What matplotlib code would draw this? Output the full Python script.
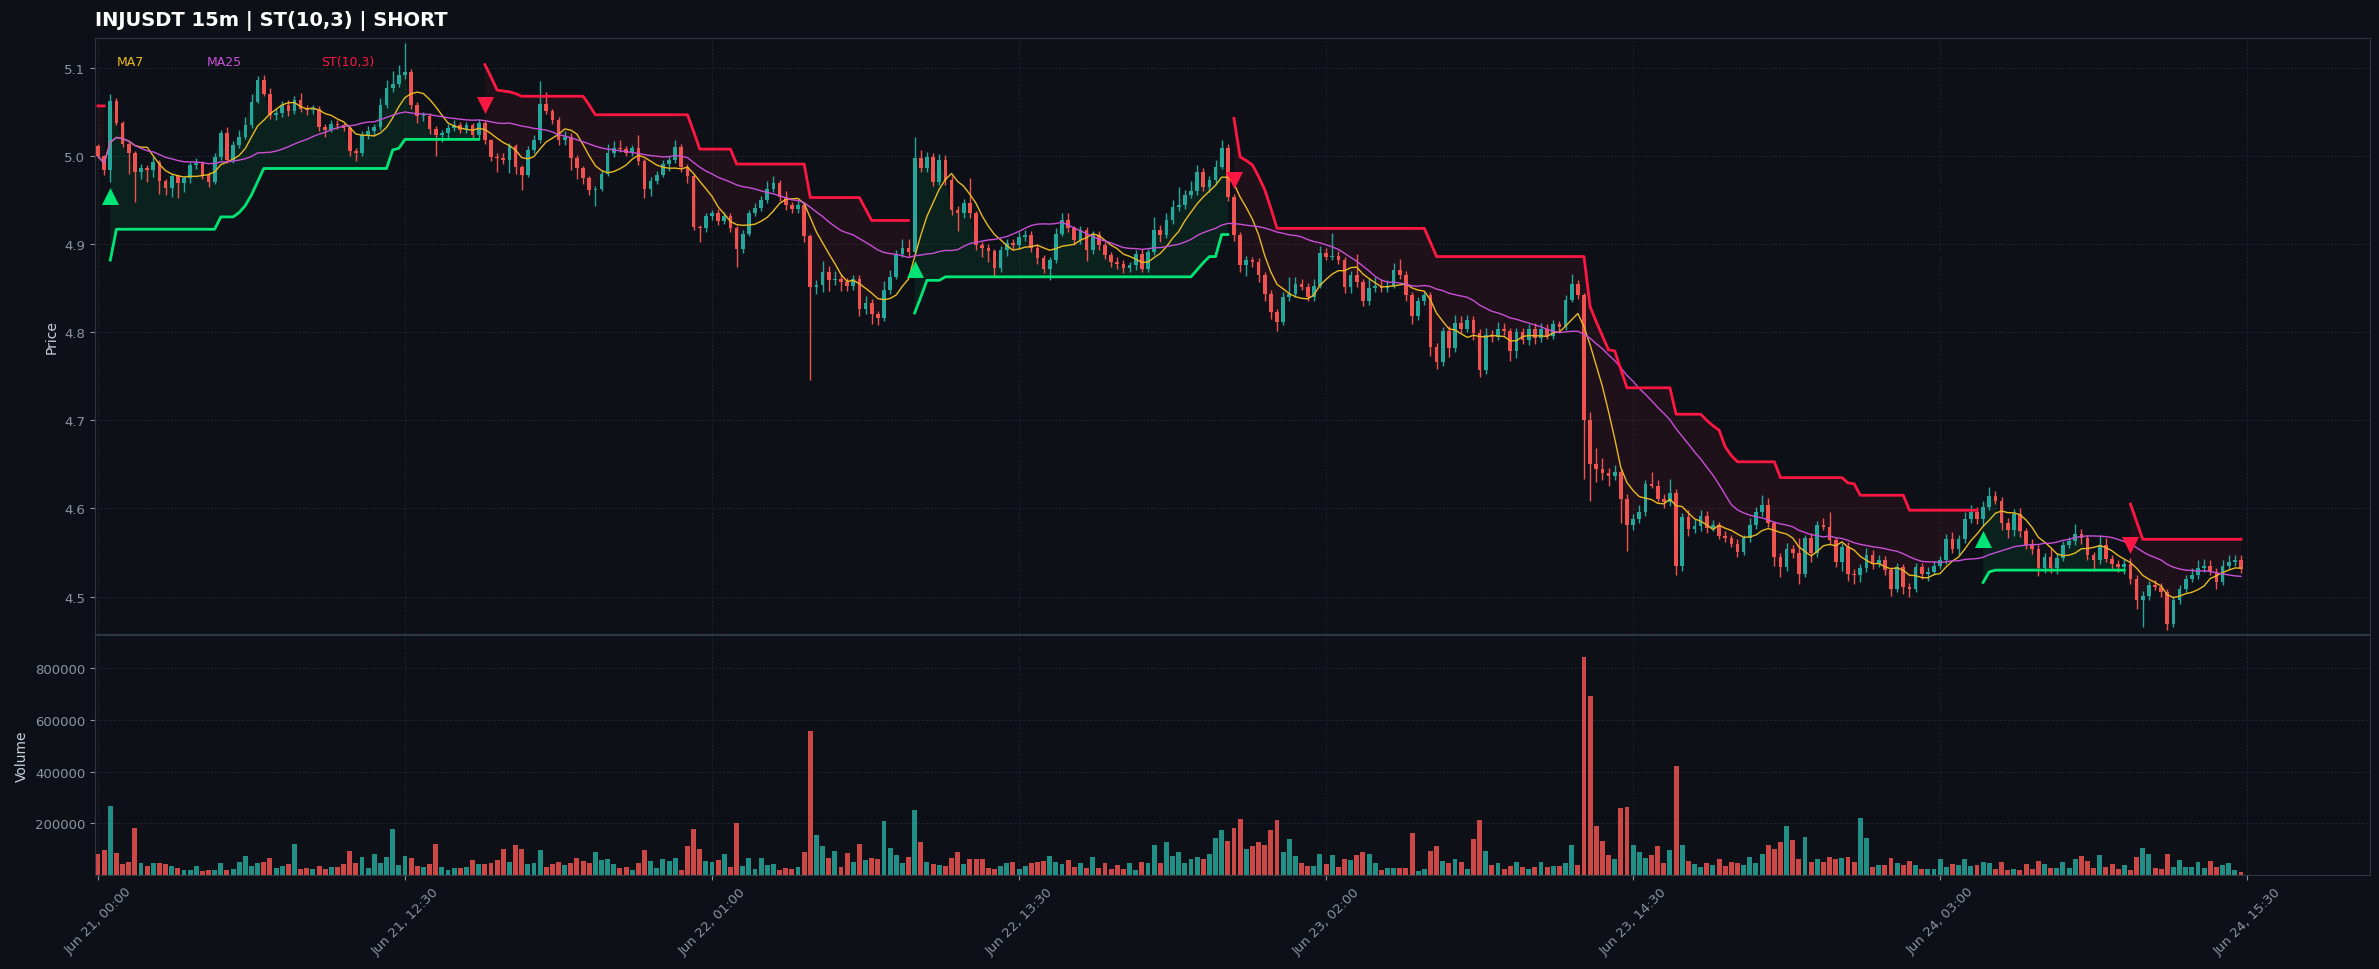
import numpy as np
import pandas as pd
import matplotlib
matplotlib.use('Agg')
import matplotlib.pyplot as plt

# ---- data (15m candles, Jun 21 00:00 onwards) ----
first_open = 5.012
closes = [
    5.000, 4.984, 5.063, 5.038, 5.014, 5.004, 4.982, 4.986, 4.984, 4.993,
    4.972, 4.964, 4.977, 4.969, 4.975, 4.990, 4.992, 4.979, 4.971, 4.999,
    5.026, 4.996, 5.013, 5.022, 5.035, 5.062, 5.086, 5.071, 5.047, 5.049,
    5.058, 5.051, 5.064, 5.054, 5.052, 5.054, 5.033, 5.030, 5.037, 5.035,
    5.032, 5.006, 5.003, 5.024, 5.028, 5.033, 5.058, 5.077, 5.082, 5.092,
    5.096, 5.058, 5.046, 5.046, 5.031, 5.024, 5.026, 5.032, 5.035, 5.030,
    5.035, 5.024, 5.038, 5.018, 4.999, 4.998, 4.996, 5.011, 4.988, 4.979,
    5.007, 5.018, 5.059, 5.051, 5.041, 5.018, 5.022, 4.998, 4.986, 4.975,
    4.962, 4.963, 4.980, 5.003, 5.009, 5.008, 5.004, 5.009, 4.994, 4.963,
    4.972, 4.979, 4.991, 4.996, 5.010, 4.988, 4.977, 4.920, 4.918, 4.932,
    4.935, 4.926, 4.932, 4.918, 4.895, 4.912, 4.935, 4.941, 4.950, 4.963,
    4.969, 4.954, 4.944, 4.940, 4.944, 4.909, 4.852, 4.854, 4.869, 4.859,
    4.860, 4.857, 4.853, 4.861, 4.827, 4.833, 4.821, 4.816, 4.848, 4.863,
    4.889, 4.896, 4.891, 4.998, 4.986, 4.999, 4.971, 4.996, 4.973, 4.939,
    4.935, 4.947, 4.935, 4.899, 4.896, 4.892, 4.873, 4.893, 4.901, 4.899,
    4.908, 4.911, 4.896, 4.884, 4.872, 4.882, 4.912, 4.927, 4.918, 4.905,
    4.916, 4.893, 4.911, 4.899, 4.888, 4.880, 4.877, 4.873, 4.876, 4.889,
    4.872, 4.891, 4.916, 4.910, 4.927, 4.942, 4.944, 4.956, 4.960, 4.982,
    4.965, 4.973, 4.988, 5.009, 4.954, 4.910, 4.876, 4.882, 4.880, 4.865,
    4.844, 4.823, 4.812, 4.840, 4.844, 4.855, 4.852, 4.840, 4.853, 4.890,
    4.886, 4.887, 4.882, 4.851, 4.865, 4.857, 4.835, 4.850, 4.853, 4.850,
    4.853, 4.871, 4.865, 4.842, 4.819, 4.835, 4.842, 4.783, 4.766, 4.801,
    4.782, 4.810, 4.804, 4.814, 4.799, 4.757, 4.797, 4.795, 4.804, 4.801,
    4.779, 4.800, 4.791, 4.804, 4.793, 4.804, 4.796, 4.809, 4.806, 4.837,
    4.855, 4.842, 4.700, 4.651, 4.645, 4.640, 4.637, 4.641, 4.611, 4.581,
    4.588, 4.596, 4.628, 4.626, 4.611, 4.607, 4.618, 4.535, 4.590, 4.577,
    4.580, 4.592, 4.578, 4.581, 4.569, 4.566, 4.560, 4.551, 4.566, 4.581,
    4.596, 4.604, 4.583, 4.545, 4.534, 4.554, 4.549, 4.526, 4.566, 4.549,
    4.581, 4.579, 4.564, 4.539, 4.556, 4.526, 4.524, 4.532, 4.547, 4.537,
    4.541, 4.530, 4.509, 4.533, 4.511, 4.509, 4.533, 4.526, 4.528, 4.535,
    4.541, 4.565, 4.554, 4.565, 4.588, 4.596, 4.588, 4.602, 4.614, 4.609,
    4.583, 4.575, 4.594, 4.574, 4.559, 4.554, 4.532, 4.545, 4.532, 4.544,
    4.559, 4.563, 4.571, 4.566, 4.547, 4.541, 4.558, 4.543, 4.537, 4.534,
    4.537, 4.520, 4.496, 4.501, 4.513, 4.511, 4.505, 4.469, 4.496, 4.509,
    4.520, 4.524, 4.532, 4.535, 4.528, 4.517, 4.535, 4.539, 4.541, 4.531,
]
# wick lengths above / below the body, in thousandths of a dollar
wick_up = [
    2, 1, 8, 3, 2, 2, 2, 5, 4, 6,   3, 2, 3, 2, 3, 3, 6, 3, 3, 5,
    4, 7, 4, 8, 10, 8, 5, 6, 6, 6,  5, 6, 4, 8, 4, 4, 3, 3, 4, 4,
    3, 2, 3, 4, 6, 4, 8, 10, 15, 12, 33, 3, 4, 4, 3, 3, 4, 4, 6, 4,
    4, 3, 4, 3, 2, 5, 6, 4, 3, 2,   4, 6, 26, 14, 3, 3, 6, 4, 3, 3,
    3, 3, 4, 11, 8, 9, 4, 4, 15, 3, 4, 4, 5, 4, 8, 4, 3, 3, 2, 4,
    4, 5, 5, 4, 3, 4, 4, 6, 5, 9,   8, 4, 6, 4, 5, 4, 3, 5, 12, 6,
    10, 6, 5, 4, 4, 8, 5, 3, 10, 8, 5, 10, 10, 24, 9, 6, 4, 6, 5, 4,
    4, 4, 28, 3, 4, 4, 3, 5, 5, 5,  6, 5, 4, 4, 4, 4, 6, 9, 8, 3,
    5, 4, 4, 4, 4, 3, 5, 5, 4, 5,   6, 4, 15, 6, 8, 8, 21, 6, 12, 8,
    5, 4, 8, 9, 5, 3, 4, 5, 4, 4,   3, 4, 3, 6, 19, 8, 6, 4, 8, 8,
    6, 26, 5, 4, 5, 24, 4, 12, 10, 6, 6, 8, 12, 5, 4, 5, 4, 4, 5, 5,
    6, 10, 8, 6, 5, 5, 8, 6, 8, 6,  4, 5, 5, 5, 6, 6, 5, 5, 4, 5,
    11, 4, 3, 10, 18, 12, 6, 8, 4, 5, 6, 8, 4, 13, 6, 5, 16, 4, 5, 8,
    8, 6, 5, 6, 4, 5, 4, 5, 4, 8,   6, 11, 8, 3, 4, 7, 5, 18, 4, 6,
    5, 8, 17, 4, 5, 6, 5, 5, 8, 6,  6, 5, 4, 5, 4, 4, 5, 5, 6, 5,
    5, 6, 8, 5, 8, 8, 6, 6, 10, 6,  4, 6, 5, 6, 4, 6, 4, 5, 10, 5,
    4, 5, 11, 6, 4, 4, 12, 8, 4, 4, 6, 7, 4, 5, 5, 6, 4, 4, 5, 4,
    4, 8, 9, 8, 6, 4, 6, 8, 6, 6,
]
wick_dn = [
    2, 5, 13, 3, 4, 24, 34, 8, 13, 8, 15, 8, 10, 17, 10, 5, 5, 5, 6, 3,
    3, 4, 4, 4, 3, 3, 2, 3, 5, 6,   4, 5, 3, 4, 5, 4, 5, 8, 3, 4,
    4, 6, 8, 3, 4, 5, 3, 3, 4, 4,   4, 4, 8, 6, 6, 24, 8, 8, 4, 4,
    4, 5, 4, 4, 4, 16, 5, 15, 8, 17, 3, 3, 3, 3, 4, 5, 5, 14, 12, 7,
    6, 19, 3, 3, 4, 3, 4, 4, 4, 11, 8, 4, 3, 8, 4, 6, 8, 4, 15, 4,
    4, 4, 3, 4, 21, 5, 3, 3, 3, 3,  4, 5, 5, 4, 4, 6, 106, 8, 8, 12,
    5, 10, 6, 5, 9, 6, 12, 8, 3, 4, 3, 4, 5, 3, 4, 4, 5, 4, 6, 6,
    20, 5, 5, 6, 10, 12, 10, 4, 6, 4, 4, 4, 5, 6, 5, 13, 3, 3, 4, 6,
    5, 12, 4, 5, 5, 6, 5, 6, 4, 5,  4, 4, 3, 8, 3, 4, 4, 4, 4, 4,
    5, 6, 4, 3, 5, 6, 8, 12, 6, 8,  8, 8, 10, 4, 5, 4, 4, 5, 4, 3,
    4, 4, 5, 6, 6, 6, 5, 4, 4, 4,   4, 3, 5, 6, 10, 5, 4, 10, 8, 4,
    10, 4, 5, 4, 8, 8, 4, 6, 4, 4,  12, 8, 4, 5, 6, 4, 4, 4, 5, 3,
    3, 4, 66, 42, 15, 8, 12, 5, 28, 29, 5, 4, 4, 3, 4, 6, 4, 11, 6, 8,
    5, 6, 6, 4, 4, 4, 4, 6, 4, 4,   4, 4, 4, 10, 12, 5, 5, 12, 4, 10,
    4, 4, 4, 6, 10, 8, 10, 8, 4, 6, 4, 6, 8, 4, 8, 10, 4, 6, 8, 4,
    4, 4, 4, 8, 4, 4, 6, 8, 4, 4,   8, 8, 6, 6, 5, 6, 9, 5, 5, 6,
    4, 4, 4, 6, 6, 10, 4, 4, 6, 6,  8, 6, 10, 30, 5, 4, 5, 7, 3, 4,
    4, 4, 4, 4, 4, 8, 4, 4, 4, 4,
]
# supertrend(10,3) level as drawn on the chart
supertrend = [
    5.057, 5.057, 4.882, 4.917, 4.917, 4.917, 4.917, 4.917, 4.917, 4.917,
    4.917, 4.917, 4.917, 4.917, 4.917, 4.917, 4.917, 4.917, 4.917, 4.917,
    4.931, 4.931, 4.931, 4.936, 4.944, 4.956, 4.971, 4.986, 4.986, 4.986,
    4.986, 4.986, 4.986, 4.986, 4.986, 4.986, 4.986, 4.986, 4.986, 4.986,
    4.986, 4.986, 4.986, 4.986, 4.986, 4.986, 4.986, 4.986, 5.007, 5.009,
    5.019, 5.019, 5.019, 5.019, 5.019, 5.019, 5.019, 5.019, 5.019, 5.019,
    5.019, 5.019, 5.019, 5.104, 5.090, 5.075, 5.074, 5.073, 5.071, 5.068,
    5.068, 5.068, 5.068, 5.068, 5.068, 5.068, 5.068, 5.068, 5.068, 5.068,
    5.058, 5.047, 5.047, 5.047, 5.047, 5.047, 5.047, 5.047, 5.047, 5.047,
    5.047, 5.047, 5.047, 5.047, 5.047, 5.047, 5.047, 5.028, 5.008, 5.008,
    5.008, 5.008, 5.008, 5.008, 4.991, 4.991, 4.991, 4.991, 4.991, 4.991,
    4.991, 4.991, 4.991, 4.991, 4.991, 4.991, 4.953, 4.953, 4.953, 4.953,
    4.953, 4.953, 4.953, 4.953, 4.953, 4.940, 4.927, 4.927, 4.927, 4.927,
    4.927, 4.927, 4.927, 4.822, 4.840, 4.859, 4.859, 4.859, 4.863, 4.863,
    4.863, 4.863, 4.863, 4.863, 4.863, 4.863, 4.863, 4.863, 4.863, 4.863,
    4.863, 4.863, 4.863, 4.863, 4.863, 4.863, 4.863, 4.863, 4.863, 4.863,
    4.863, 4.863, 4.863, 4.863, 4.863, 4.863, 4.863, 4.863, 4.863, 4.863,
    4.863, 4.863, 4.863, 4.863, 4.863, 4.863, 4.863, 4.863, 4.863, 4.871,
    4.879, 4.886, 4.886, 4.911, 4.911, 5.043, 4.999, 4.995, 4.990, 4.977,
    4.962, 4.941, 4.918, 4.918, 4.918, 4.918, 4.918, 4.918, 4.918, 4.918,
    4.918, 4.918, 4.918, 4.918, 4.918, 4.918, 4.918, 4.918, 4.918, 4.918,
    4.918, 4.918, 4.918, 4.918, 4.918, 4.918, 4.918, 4.902, 4.886, 4.886,
    4.886, 4.886, 4.886, 4.886, 4.886, 4.886, 4.886, 4.886, 4.886, 4.886,
    4.886, 4.886, 4.886, 4.886, 4.886, 4.886, 4.886, 4.886, 4.886, 4.886,
    4.886, 4.886, 4.886, 4.829, 4.812, 4.796, 4.780, 4.779, 4.758, 4.737,
    4.737, 4.737, 4.737, 4.737, 4.737, 4.737, 4.737, 4.707, 4.707, 4.707,
    4.707, 4.707, 4.700, 4.694, 4.689, 4.670, 4.660, 4.653, 4.653, 4.653,
    4.653, 4.653, 4.653, 4.653, 4.635, 4.635, 4.635, 4.635, 4.635, 4.635,
    4.635, 4.635, 4.635, 4.635, 4.635, 4.629, 4.628, 4.615, 4.615, 4.615,
    4.615, 4.615, 4.615, 4.615, 4.615, 4.598, 4.598, 4.598, 4.598, 4.598,
    4.598, 4.598, 4.598, 4.598, 4.598, 4.598, 4.598, 4.516, 4.528, 4.530,
    4.530, 4.530, 4.530, 4.530, 4.530, 4.530, 4.530, 4.530, 4.530, 4.530,
    4.530, 4.530, 4.530, 4.530, 4.530, 4.530, 4.530, 4.530, 4.530, 4.530,
    4.530, 4.605, 4.585, 4.565, 4.565, 4.565, 4.565, 4.565, 4.565, 4.565,
    4.565, 4.565, 4.565, 4.565, 4.565, 4.565, 4.565, 4.565, 4.565, 4.565,
]
# volume in thousands of INJ
volume_k = [
    81, 95, 266, 84, 41, 49, 182, 45, 34, 45,   45, 41, 34, 26, 18, 18, 34, 14, 18, 18,
    45, 21, 23, 49, 72, 34, 45, 49, 65, 26,     34, 41, 120, 23, 26, 23, 36, 23, 30, 30,
    41, 92, 45, 68, 26, 80, 45, 68, 178, 37,    72, 65, 34, 30, 41, 119, 30, 18, 26, 26,
    30, 57, 41, 41, 45, 57, 99, 49, 115, 99,    41, 45, 97, 30, 41, 49, 37, 45, 65, 53,
    45, 88, 57, 61, 41, 26, 30, 18, 45, 96,     53, 26, 61, 53, 65, 18, 111, 178, 99, 53,
    49, 57, 80, 30, 200, 34, 65, 23, 65, 37,    41, 18, 26, 23, 30, 88, 559, 154, 111, 65,
    92, 30, 84, 49, 119, 57, 65, 61, 208, 103,  76, 45, 68, 251, 127, 49, 41, 37, 34, 65,
    88, 41, 61, 61, 61, 26, 23, 34, 45, 49,     23, 34, 45, 49, 53, 72, 49, 41, 57, 30,
    45, 26, 68, 26, 45, 23, 37, 23, 45, 18,     49, 45, 115, 45, 127, 75, 88, 45, 62, 71,
    62, 80, 142, 173, 130, 181, 217, 99, 111, 127, 115, 173, 212, 88, 138, 72, 45, 34, 34, 80,
    41, 76, 30, 61, 57, 76, 88, 80, 45, 18,     26, 26, 26, 26, 161, 14, 22, 92, 111, 53,
    45, 61, 49, 22, 138, 212, 92, 37, 45, 22,   34, 49, 30, 22, 30, 49, 30, 34, 34, 45,
    115, 37, 844, 692, 189, 130, 76, 61, 258, 262, 115, 88, 65, 76, 111, 45, 96, 421, 115, 53,
    41, 30, 45, 37, 61, 34, 49, 45, 37, 68,     45, 80, 115, 99, 127, 189, 134, 61, 146, 49,
    61, 49, 68, 61, 65, 68, 49, 220, 142, 30,   37, 37, 65, 45, 37, 53, 37, 22, 22, 22,
    61, 30, 41, 37, 61, 34, 37, 49, 45, 22,     49, 18, 22, 18, 41, 22, 53, 41, 26, 26,
    49, 26, 61, 72, 53, 26, 76, 30, 41, 22,     37, 18, 68, 103, 80, 26, 22, 80, 30, 57,
    30, 30, 49, 26, 53, 30, 37, 45, 18, 10,
]
start_time = '2024-06-21 00:00'
tick_step = 50

BG = '#0d1117'
UP = '#26a69a'
DN = '#ef5350'
MA7_C = '#e8b923'
MA25_C = '#c94fd6'
ST_UP = '#00e676'
ST_DN = '#ff1744'
TICK_C = '#8b949e'
GRID_C = '#2a2f3a'

c = np.array(closes)
o = np.concatenate([[first_open], c[:-1]])
h = np.maximum(o, c) + np.array(wick_up) / 1000.0
l = np.minimum(o, c) - np.array(wick_dn) / 1000.0
vol = np.array(volume_k) * 1000.0
st = np.array(supertrend)
n = len(c)
x = np.arange(n)
times = pd.date_range(start_time, periods=n + tick_step, freq='15min')

ma7 = pd.Series(c).rolling(7, min_periods=1).mean().values
ma25 = pd.Series(c).rolling(25, min_periods=1).mean().values
# line under price = long side, line over price = short side
trend = np.where(c > st, 1, -1)

fig = plt.figure(figsize=(23.79, 9.70), dpi=100, facecolor=BG)
ax = fig.add_axes([0.0399, 0.3454, 0.9563, 0.6144], facecolor=BG)
axv = fig.add_axes([0.0399, 0.0969, 0.9563, 0.2474], facecolor=BG, sharex=ax)

up = c >= o
col = np.where(up, UP, DN)

# candles
ax.vlines(x, l, h, colors=col, linewidth=1.0, zorder=3)
body = np.maximum(np.abs(c - o), 0.0008)
ax.bar(x, body, bottom=np.minimum(o, c), width=0.6, color=col, zorder=4)

# moving averages
ax.plot(x, ma7, color=MA7_C, linewidth=1.0, zorder=5)
ax.plot(x, ma25, color=MA25_C, linewidth=1.0, zorder=5)

# supertrend
st_up = np.where(trend == 1, st, np.nan)
st_dn = np.where(trend == -1, st, np.nan)
ax.fill_between(x, c, st, where=trend == 1, color=ST_UP, alpha=0.08, linewidth=0, zorder=1)
ax.fill_between(x, c, st, where=trend == -1, color=ST_DN, alpha=0.07, linewidth=0, zorder=1)
ax.plot(x, st_up, color=ST_UP, linewidth=2.0, zorder=6)
ax.plot(x, st_dn, color=ST_DN, linewidth=2.0, zorder=6)

flip = np.zeros(n, dtype=bool)
flip[1:] = trend[1:] != trend[:-1]
buys = np.where(flip & (trend == 1))[0]
sells = np.where(flip & (trend == -1))[0]
ax.scatter(buys, l[buys] * 0.9967, marker='^', s=150, color=ST_UP, zorder=7, linewidths=0)
ax.scatter(sells, h[sells] * 1.0033, marker='v', s=150, color=ST_DN, zorder=7, linewidths=0)

ax.text(0.0097, 0.961, 'MA7', color=MA7_C, fontsize=9, transform=ax.transAxes, va='center')
ax.text(0.0492, 0.961, 'MA25', color=MA25_C, fontsize=9, transform=ax.transAxes, va='center')
ax.text(0.0993, 0.961, 'ST(10,3)', color=ST_DN, fontsize=9, transform=ax.transAxes, va='center')

ax.set_title('INJUSDT 15m | ST(10,3) | SHORT', loc='left', color='white',
             fontsize=14, fontweight='bold', pad=9)
ax.set_ylabel('Price', color='#c9d1d9', fontsize=10)
ax.set_ylim(l.min() * 0.999, h.max() * 1.001)
ax.set_xlim(-0.5, n + 20)

# volume
axv.bar(x, vol, width=0.8, color=col, alpha=0.85)
axv.set_ylim(0, vol.max() * 1.1)
axv.set_yticks([200000, 400000, 600000, 800000])
axv.set_yticklabels(['200000', '400000', '600000', '800000'])
axv.set_ylabel('Volume', color='#c9d1d9', fontsize=10)

ticks = np.arange(0, n + 1, tick_step)
axv.set_xticks(ticks)
axv.set_xticklabels([times[t].strftime('%b %d, %H:%M') for t in ticks], rotation=45)
plt.setp(ax.get_xticklabels(), visible=False)

for a in (ax, axv):
    a.tick_params(colors=TICK_C, labelsize=9.5)
    a.grid(True, color=GRID_C, linewidth=0.6, linestyle='--', alpha=0.6)
    a.set_axisbelow(True)
    for s in a.spines.values():
        s.set_color('#30363d')

fig.savefig('out.png', dpi=100, facecolor=BG)
